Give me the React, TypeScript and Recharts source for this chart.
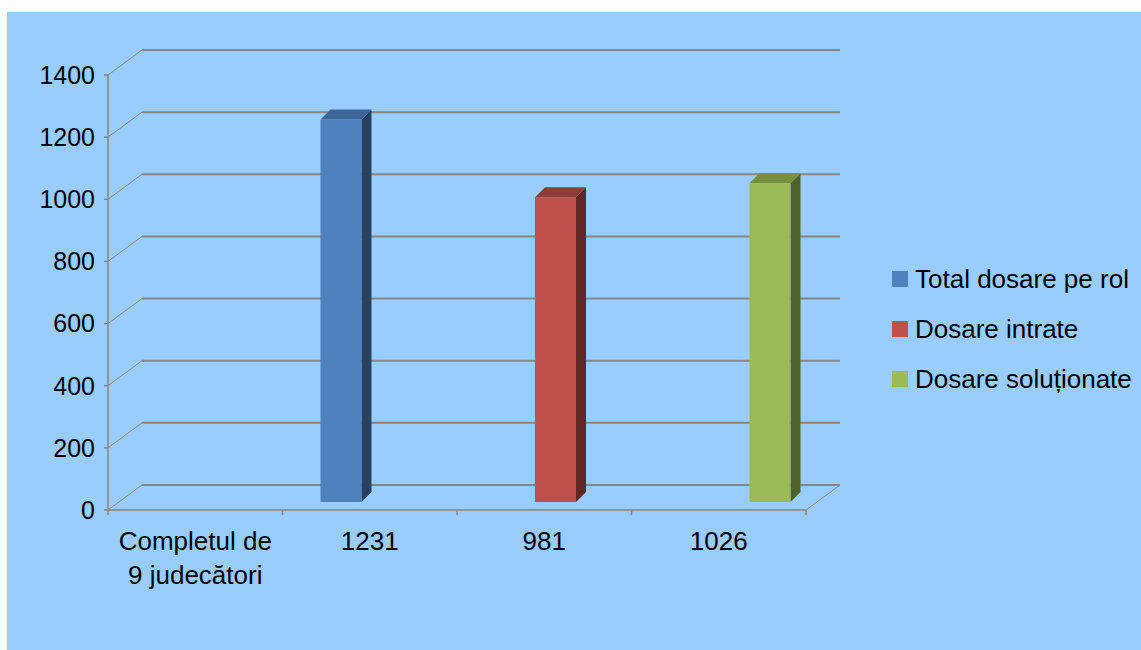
import { BarChart, Bar, XAxis, YAxis, CartesianGrid } from "recharts";

// categories on the x axis (the last three are the values themselves)
const categories = ["Completul de\n9 judecători", "1231", "981", "1026"];

// one series per colour, each only has a value in its own category
const totalDosare = [null, 1231, null, null];
const dosareIntrate = [null, null, 981, null];
const dosareSolutionate = [null, null, null, 1026];

const yTicks = [0, 200, 400, 600, 800, 1000, 1200, 1400];

const seriesNames = ["Total dosare pe rol", "Dosare intrate", "Dosare soluționate"];

const data = categories.map((name, i) => ({
  name,
  total: totalDosare[i],
  intrate: dosareIntrate[i],
  solutionate: dosareSolutionate[i],
}));

const FONT = '"Liberation Sans", Arial, sans-serif';
const GRID = "#868686";
const W = 1134;
const H = 638;
const PLOT_BOTTOM = 498;

// back wall offset of the fake 3D box
const DX = 34;
const DY = -25;
// bars sit partway into the depth, and have their own depth
const SX = 11;
const SY = -8;
const BDX = 10;
const BDY = -10;

const COLORS = [
  { front: "#4F81BD", top: "#3D6596", side: "#29425F" },
  { front: "#C0504D", top: "#8E3A38", side: "#612724" },
  { front: "#9BBB59", top: "#76903E", side: "#4E6128" },
];

function makeShape(c: { front: string; top: string; side: string }) {
  return (props: any) => {
    const { x, y, width, height } = props;
    if (!height || height <= 0 || x == null) return <g />;
    const fx = x + SX;
    const fy = y + SY;
    return (
      <g>
        <polygon
          points={`${fx + width},${fy} ${fx + width + BDX},${fy + BDY} ${fx + width + BDX},${fy + height + BDY} ${fx + width},${fy + height}`}
          fill={c.side}
        />
        <polygon
          points={`${fx},${fy} ${fx + BDX},${fy + BDY} ${fx + width + BDX},${fy + BDY} ${fx + width},${fy}`}
          fill={c.top}
        />
        <rect x={fx} y={fy} width={width} height={height} fill={c.front} />
      </g>
    );
  };
}

function gridLine(props: any) {
  const { x1, x2, y1, key } = props;
  const isFloor = Math.abs(y1 - PLOT_BOTTOM) < 1;
  return (
    <g key={key}>
      <line x1={x1} y1={y1} x2={x1 + DX} y2={y1 + DY} stroke={GRID} strokeWidth={1} />
      <line x1={x1 + DX} y1={y1 + DY} x2={x2 + DX} y2={y1 + DY} stroke={GRID} strokeWidth={2} />
      {isFloor && (
        <line x1={x2} y1={y1} x2={x2 + DX} y2={y1 + DY} stroke={GRID} strokeWidth={1} />
      )}
    </g>
  );
}

function CategoryTick(props: any) {
  const { x, y, payload, index } = props;
  const half = payload.offset || 87.25;
  const lines = String(payload.value).split("\n");
  return (
    <g>
      {index === 0 && (
        <line x1={x - half} y1={y} x2={x - half} y2={y + 5} stroke={GRID} strokeWidth={1.5} />
      )}
      <line x1={x + half} y1={y} x2={x + half} y2={y + 5} stroke={GRID} strokeWidth={1.5} />
      <text x={x} y={y + 40} textAnchor="middle" fill="#000" fontSize={26} fontFamily={FONT}>
        {lines.map((l, i) => (
          <tspan key={i} x={x} dy={i === 0 ? 0 : 34}>
            {l}
          </tspan>
        ))}
      </text>
    </g>
  );
}

export default function App() {
  return (
    <div
      style={{
        position: "absolute",
        left: 7,
        top: 12,
        width: W,
        height: H,
        background: "#99CCFF",
        fontFamily: FONT,
      }}
    >
      <BarChart
        width={W}
        height={H}
        data={data}
        margin={{ top: 63, right: 335, bottom: 40, left: 21 }}
        barSize={41}
        barGap={-1}
      >
        <CartesianGrid vertical={false} horizontal={gridLine} />
        <XAxis
          dataKey="name"
          height={100}
          interval={0}
          tickLine={false}
          tickSize={0}
          tickMargin={0}
          axisLine={{ stroke: GRID, strokeWidth: 1.5 }}
          tick={<CategoryTick />}
        />
        <YAxis
          width={80}
          domain={[0, 1400]}
          ticks={yTicks}
          interval={0}
          tickSize={4}
          tickMargin={9}
          axisLine={{ stroke: GRID, strokeWidth: 1.5 }}
          tickLine={{ stroke: GRID, strokeWidth: 1.5 }}
          tick={{ fill: "#000", fontSize: 25, fontFamily: FONT }}
        />
        <Bar dataKey="total" name={seriesNames[0]} fill={COLORS[0].front} shape={makeShape(COLORS[0])} isAnimationActive={false} />
        <Bar dataKey="intrate" name={seriesNames[1]} fill={COLORS[1].front} shape={makeShape(COLORS[1])} isAnimationActive={false} />
        <Bar dataKey="solutionate" name={seriesNames[2]} fill={COLORS[2].front} shape={makeShape(COLORS[2])} isAnimationActive={false} />
      </BarChart>
      <div style={{ position: "absolute", left: 885, top: 242 }}>
        {seriesNames.map((n, i) => (
          <div key={n} style={{ display: "flex", alignItems: "center", height: 50 }}>
            <div style={{ width: 16, height: 16, background: COLORS[i].front, marginRight: 7 }} />
            <span style={{ fontSize: 26, color: "#000", whiteSpace: "nowrap" }}>{n}</span>
          </div>
        ))}
      </div>
    </div>
  );
}
